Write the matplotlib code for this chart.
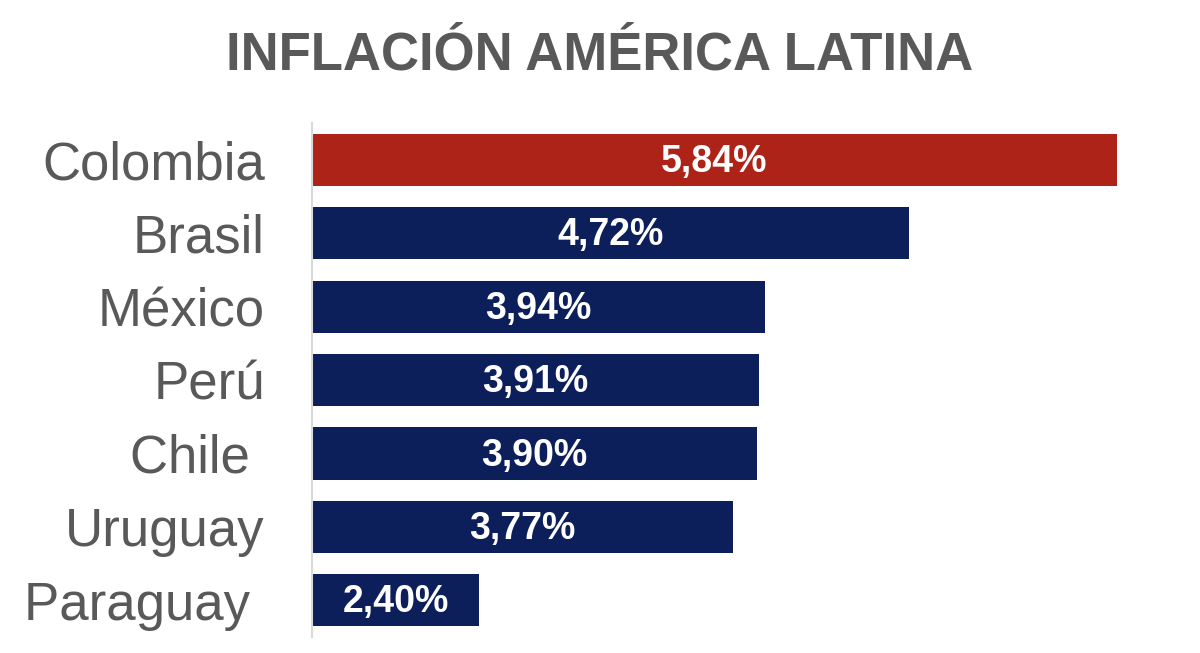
import matplotlib
matplotlib.use("Agg")
import matplotlib.pyplot as plt

countries = ["Colombia", "Brasil", "México", "Perú", "Chile ", "Uruguay", "Paraguay "]
values = [5.84, 4.72, 3.94, 3.91, 3.90, 3.77, 2.40]
value_labels = ["5,84%", "4,72%", "3,94%", "3,91%", "3,90%", "3,77%", "2,40%"]
colors = ["#AE2318"] + ["#0C1F5B"] * 6

plt.rcParams['font.family'] = ['Liberation Sans', 'DejaVu Sans']

fig = plt.figure(figsize=(12, 6.53), dpi=100)
ax = fig.add_axes([0.26, 0.0245, 0.9556 - 0.26, 0.8116 - 0.0245])

y = list(range(len(countries)))
ax.barh(y, values, height=0.71, color=colors, left=0)
ax.set_xlim(1.5, 6.0)
ax.set_ylim(6.5, -0.5)

for yi, v, lab in zip(y, values, value_labels):
    ax.text((1.5 + v) / 2, yi + 0.03, lab, ha='center', va='center', color='white',
            fontsize=27, fontweight='bold')

ax.set_yticks(y)
ax.set_yticklabels(countries, fontsize=38, color='#595959')
ax.tick_params(axis='y', length=0, pad=34)
ax.set_xticks([])
for s in ['top', 'right', 'bottom']:
    ax.spines[s].set_visible(False)
ax.spines['left'].set_color('#D9D9D9')
ax.spines['left'].set_linewidth(1.5)

fig.text(0.5, 0.915, "INFLACIÓN AMÉRICA LATINA", ha='center', va='center',
         fontsize=38, fontweight='bold', color='#595959')

fig.savefig("out.png", dpi=100)
